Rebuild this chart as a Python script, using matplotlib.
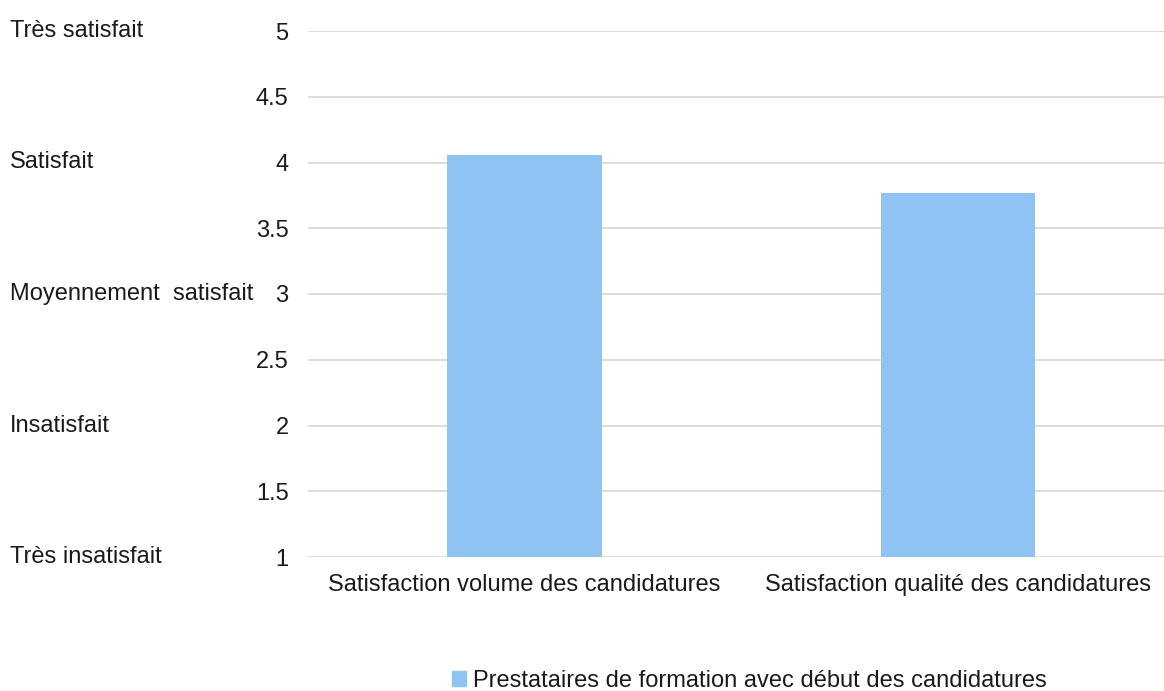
import matplotlib.pyplot as plt
from matplotlib.transforms import blended_transform_factory
from matplotlib.patches import Patch

plt.rcParams['font.family'] = ['Liberation Sans', 'DejaVu Sans']

categories = ['Satisfaction volume des candidatures', 'Satisfaction qualité des candidatures']
values = [4.06, 3.77]
series_name = 'Prestataires de formation avec début des candidatures'
y_ticks = [1, 1.5, 2, 2.5, 3, 3.5, 4, 4.5, 5]
y_tick_labels = ['1', '1.5', '2', '2.5', '3', '3.5', '4', '4.5', '5']
level_pos = [1, 2, 3, 4, 5]
level_labels = ['Très insatisfait', 'Insatisfait', 'Moyennement  satisfait', 'Satisfait', 'Très satisfait']

bar_color = '#8EC3F4'
text_color = '#1A1A1A'
fs = 17

fig = plt.figure(figsize=(11.64, 6.91), dpi=100)
ax = fig.add_axes([308 / 1164, 1 - 557 / 691, 1 - 308 / 1164, (557 - 31) / 691])

x = range(len(categories))
ax.bar(x, values, width=0.356, color=bar_color, zorder=3)

ax.set_xlim(-0.5, 1.476)
ax.set_ylim(1, 5)
ax.set_xticks(list(x))
ax.set_xticklabels(categories, fontsize=fs, color=text_color)
ax.set_yticks(y_ticks)
ax.set_yticklabels(y_tick_labels, fontsize=fs, color=text_color)
ax.tick_params(axis='both', length=0)
ax.tick_params(axis='x', pad=12)
ax.tick_params(axis='y', pad=14)
ax.grid(axis='y', color='#D9D9D9', linewidth=1.3, zorder=0)
for s in ax.spines.values():
    s.set_visible(False)

# text labels for satisfaction levels at the far left
trans = blended_transform_factory(fig.transFigure, ax.transData)
for pos, lab in zip(level_pos, level_labels):
    ax.text(10 / 1164, pos, lab, transform=trans, ha='left', va='center',
            fontsize=fs, color=text_color)

handle = Patch(color=bar_color, label=series_name)
fig.legend(handles=[handle], loc='center', bbox_to_anchor=(749 / 1164, 1 - 681 / 691),
           frameon=False, fontsize=fs, handlelength=0.6, handleheight=0.6,
           handletextpad=0.3, labelcolor=text_color, borderpad=0, borderaxespad=0)

fig.savefig('out.png', dpi=100)
